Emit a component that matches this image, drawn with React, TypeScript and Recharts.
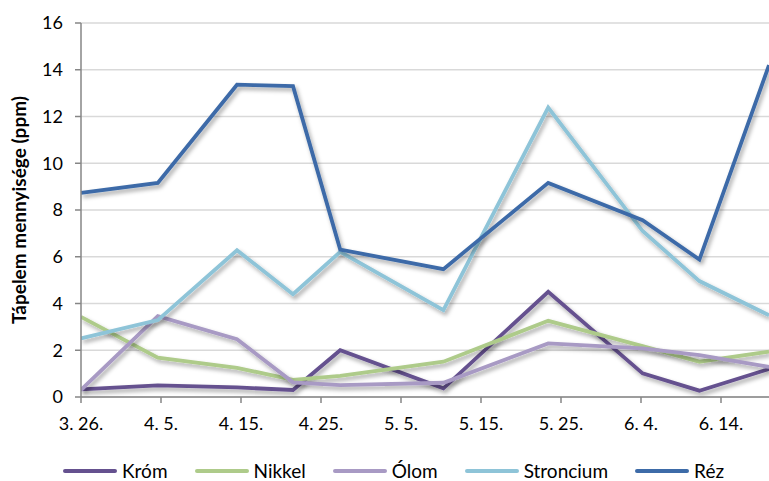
import React from "react";
import {
  LineChart,
  Line,
  XAxis,
  YAxis,
  CartesianGrid,
  Legend,
} from "recharts";

// napok 3.26-tól számítva (a mintavételek helye a dátumtengelyen)
const days = [0, 9.6, 19.5, 26.5, 32.4, 45.3, 58.4, 70.2, 77.3, 86];

const krom = [0.33, 0.5, 0.41, 0.3, 2.0, 0.37, 4.5, 1.01, 0.27, 1.2];
const nikkel = [3.43, 1.68, 1.25, 0.73, 0.9, 1.51, 3.26, 2.18, 1.51, 1.94];
const olom = [0.3, 3.46, 2.47, 0.63, 0.51, 0.61, 2.29, 2.08, 1.79, 1.29];
const stroncium = [2.51, 3.29, 6.28, 4.4, 6.21, 3.72, 12.38, 7.1, 4.96, 3.5];
const rez = [8.73, 9.16, 13.36, 13.3, 6.31, 5.47, 9.16, 7.56, 5.88, 14.2];

const tickLabels = ["3. 26.", "4. 5.", "4. 15.", "4. 25.", "5. 5.", "5. 15.", "5. 25.", "6. 4.", "6. 14."];
const xTicks = tickLabels.map((_, i) => i * 10);
const yTicks = [0, 2, 4, 6, 8, 10, 12, 14, 16];

const series = [
  { key: "krom", name: "Króm", color: "#65518F", values: krom },
  { key: "nikkel", name: "Nikkel", color: "#AECB8A", values: nikkel },
  { key: "olom", name: "Ólom", color: "#A89AC4", values: olom },
  { key: "stroncium", name: "Stroncium", color: "#8EC4D8", values: stroncium },
  { key: "rez", name: "Réz", color: "#3D6BA8", values: rez },
];

const data = days.map((d, i) => {
  const row: any = { day: d };
  series.forEach((s) => (row[s.key] = s.values[i]));
  return row;
});

const font = "Lato, 'Open Sans', sans-serif";

const LegendContent = () => (
  <div
    style={{
      display: "flex",
      gap: 27,
      paddingLeft: 63,
      fontFamily: font,
      fontSize: 19,
      color: "#000",
      alignItems: "center",
    }}
  >
    {series.map((s) => (
      <div key={s.key} style={{ display: "flex", alignItems: "center" }}>
        <span
          style={{
            display: "inline-block",
            width: 54,
            height: 4,
            background: s.color,
            borderRadius: 2,
            marginRight: 5,
          }}
        />
        <span>{s.name}</span>
      </div>
    ))}
  </div>
);

export default function App() {
  return (
    <div style={{ position: "absolute", left: 0, top: 0, background: "#fff" }}>
      <LineChart
        width={769}
        height={481}
        data={data}
        margin={{ top: 23, right: 0, left: 0, bottom: 0 }}
      >
        <defs>
          <filter id="shadow" x="-10%" y="-10%" width="120%" height="130%">
            <feDropShadow dx="2" dy="3" stdDeviation="2.2" floodColor="#000" floodOpacity="0.35" />
          </filter>
        </defs>
        <CartesianGrid stroke="#D9D9D9" strokeWidth={1.5} vertical={false} />
        <XAxis
          dataKey="day"
          type="number"
          domain={[0, 86]}
          ticks={xTicks}
          interval={0}
          allowDataOverflow
          height={62}
          tickSize={6}
          tickMargin={14}
          axisLine={{ stroke: "#868686", strokeWidth: 1.5 }}
          tickLine={{ stroke: "#868686", strokeWidth: 1.5 }}
          tick={{ fill: "#000", fontSize: 18, fontFamily: font }}
          tickFormatter={(v: number) => tickLabels[Math.round(v / 10)]}
        />
        <YAxis
          type="number"
          domain={[0, 16]}
          ticks={yTicks}
          interval={0}
          width={81}
          tickSize={6}
          tickMargin={12}
          axisLine={{ stroke: "#868686", strokeWidth: 1.5 }}
          tickLine={{ stroke: "#868686", strokeWidth: 1.5 }}
          tick={{ fill: "#000", fontSize: 18, fontFamily: font }}
          label={{
            value: "Tápelem mennyisége (ppm)",
            angle: -90,
            position: "center",
            dx: -21,
            style: { fontFamily: font, fontSize: 19, fontWeight: 700, fill: "#000", textAnchor: "middle" },
          }}
        />
        <Legend verticalAlign="bottom" height={22} content={<LegendContent />} />
        {series.map((s) => (
          <Line
            key={s.key}
            dataKey={s.key}
            name={s.name}
            stroke={s.color}
            strokeWidth={3.8}
            dot={false}
            activeDot={false}
            type="linear"
            filter="url(#shadow)"
            isAnimationActive={false}
          />
        ))}
      </LineChart>
    </div>
  );
}
